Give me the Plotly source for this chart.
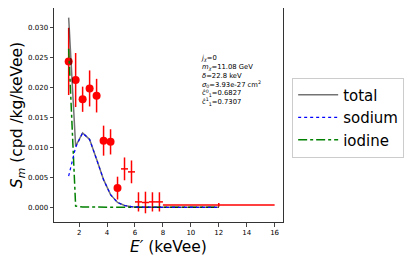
import plotly.graph_objects as go

# Data (bin centers in keVee)
E_circ = [1.25, 1.75, 2.25, 2.75, 3.25, 3.75, 4.25, 4.75]
Sm_circ = [0.0243, 0.0212, 0.0180, 0.0198, 0.0186, 0.0111, 0.0109, 0.0032]
err_circ = [0.0056, 0.0045, 0.0021, 0.0030, 0.0028, 0.0025, 0.0021, 0.0019]
xerr_circ = [0.25] * 8

E_cross = [5.25, 5.75, 6.25, 6.75, 7.25, 7.75, 12.0]
Sm_cross = [0.0064, 0.0059, 0.0009, 0.0008, 0.0009, 0.0009, 0.0004]
err_cross = [0.0019, 0.0019, 0.0016, 0.0018, 0.0016, 0.0016, 0.0003]
xerr_cross = [0.25, 0.25, 0.25, 0.25, 0.25, 0.25, 4.0]

E_model = [1.25, 1.75, 2.25, 2.75, 3.25, 3.75, 4.25, 4.75, 5.25, 5.75, 6.25, 6.75, 7.25, 7.75, 12.0]
total = [0.0316, 0.0102, 0.0124, 0.0113, 0.0080, 0.0046, 0.0021, 0.0008, 0.0003, 0.0001, 0.00003, 0.0, 0.0, 0.0, 0.0]
sodium = [0.0052, 0.0100, 0.0124, 0.0113, 0.0080, 0.0046, 0.0021, 0.0008, 0.0003, 0.0001, 0.00003, 0.0, 0.0, 0.0, 0.0]
iodine = [0.0264, 0.0002, 0.00005, 0.00002, 0.0, 0.0, 0.0, 0.0, 0.0, 0.0, 0.0, 0.0, 0.0, 0.0, 0.0]

x_ticks = [2, 4, 6, 8, 10, 12, 14, 16]
y_ticks = [0.000, 0.005, 0.010, 0.015, 0.020, 0.025, 0.030]

ann_lines = [
    "<i>j</i><sub><i>χ</i></sub>=0",
    "<i>m</i><sub><i>χ</i></sub>=11.08 GeV",
    "<i>δ</i>=22.8 keV",
    "<i>σ</i><sub>0</sub>=3.93e-27 cm<sup>2</sup>",
    "ĉ<sup>0</sup><sub>1</sub>=0.6827",
    "ĉ<sup>1</sup><sub>1</sub>=0.7307",
]

FONT = "DejaVu Sans"
fig = go.Figure()

fig.add_trace(go.Scatter(
    x=E_circ, y=Sm_circ, mode="markers",
    marker=dict(color="red", size=8),
    error_y=dict(type="data", array=err_circ, color="red", thickness=1.5, width=0),
    error_x=dict(type="data", array=xerr_circ, color="red", thickness=1.5, width=0),
    showlegend=False))
fig.add_trace(go.Scatter(
    x=E_cross, y=Sm_cross, mode="markers",
    marker=dict(color="red", size=1, opacity=0),
    error_y=dict(type="data", array=err_cross, color="red", thickness=1.5, width=0),
    error_x=dict(type="data", array=xerr_cross, color="red", thickness=1.5, width=0),
    showlegend=False))

fig.add_trace(go.Scatter(x=E_model, y=iodine, mode="lines", name="iodine",
                         line=dict(color="green", width=1.5, dash="dashdot")))
fig.add_trace(go.Scatter(x=E_model, y=total, mode="lines", name="total",
                         line=dict(color="rgba(0,0,0,0.55)", width=1.5)))
fig.add_trace(go.Scatter(x=E_model, y=sodium, mode="lines", name="sodium",
                         line=dict(color="blue", width=1.2, dash="dot")))

fig.add_annotation(text="<br>".join(ann_lines), xref="paper", yref="paper",
                   x=(199 - 54) / 229, y=(222 - 52) / 214,
                   xanchor="left", yanchor="top", align="left", showarrow=False,
                   font=dict(family=FONT, size=6.8, color="black"))

fig.add_annotation(text="<i>E′</i> (keVee)", xref="paper", yref="paper",
                   x=0.5, y=(222 - 247) / 214, xanchor="center", yanchor="middle",
                   showarrow=False, font=dict(family=FONT, size=15.5, color="black"))

# page body has an 8px margin, so the figure is sized to fit the 415x262 window
fig.update_layout(
    width=407, height=254,
    margin=dict(l=46, r=132, t=0, b=40),
    paper_bgcolor="white", plot_bgcolor="white",
    font=dict(family=FONT, color="black"),
    legend=dict(x=1.04, y=0.675, xanchor="left", yanchor="top",
                bgcolor="white", bordercolor="#cccccc", borderwidth=1,
                font=dict(family=FONT, size=15), tracegroupgap=0,
                traceorder="normal", itemwidth=40),
    xaxis=dict(range=[0.2, 16.6], tickvals=x_ticks, ticks="outside", ticklen=3.5,
               tickfont=dict(size=7), showgrid=False, zeroline=False,
               showline=True, mirror=True, linecolor="#333", linewidth=1),
    yaxis=dict(range=[-0.00245, 0.0332], tickvals=y_ticks, tickformat=".3f",
               ticks="outside", ticklen=3.5, tickfont=dict(size=7),
               showgrid=False, zeroline=False,
               showline=True, mirror=True, linecolor="#333", linewidth=1,
               title=dict(text="<i>S</i><sub><i>m</i></sub> (cpd /kg/keVee)",
                          font=dict(size=15.5), standoff=0)),
)
# legend order: total, sodium, iodine
fig.data[2].legendrank = 3
fig.data[3].legendrank = 1
fig.data[4].legendrank = 2

fig.write_html("out.html")
